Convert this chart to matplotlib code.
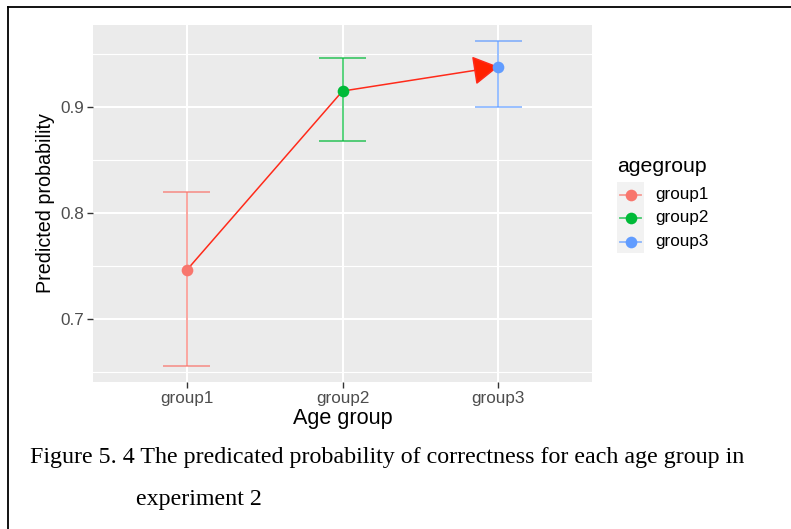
import matplotlib
matplotlib.use("Agg")
import matplotlib.pyplot as plt
from matplotlib.lines import Line2D
from matplotlib.patches import Rectangle
import numpy as np

# Predicted probabilities with confidence limits per age group
categories = ["group1", "group2", "group3"]
predicted = [0.746, 0.915, 0.938]
lower = [0.656, 0.868, 0.900]
upper = [0.820, 0.946, 0.962]
colors = ["#F8766D", "#00BA38", "#619CFF"]
y_ticks = [0.7, 0.8, 0.9]
y_minor = [0.65, 0.75, 0.85, 0.95]

plt.rcParams["font.family"] = ["Liberation Sans", "DejaVu Sans"]

W, H = 791, 529
fig = plt.figure(figsize=(W / 100, H / 100), dpi=100)
fig.patch.set_facecolor("white")

def fx(px):
    return px / W

def fy(py):
    return 1 - py / H

ax = fig.add_axes([fx(93), fy(382), fx(592) - fx(93), fy(25) - fy(382)])
ax.set_facecolor("#EBEBEB")
for s in ax.spines.values():
    s.set_visible(False)

x = np.arange(len(categories))
lo_all, hi_all = min(lower), max(upper)
pad = 0.05 * (hi_all - lo_all)
ax.set_xlim(-0.6, len(categories) - 0.4)
ax.set_ylim(lo_all - pad, hi_all + pad)

# grid
for v in y_minor:
    ax.axhline(v, color="white", lw=0.8, zorder=0)
for v in y_ticks:
    ax.axhline(v, color="white", lw=1.5, zorder=0)
for v in x:
    ax.axvline(v, color="white", lw=1.5, zorder=0)

# error bars
cap = 0.15
for xi, lo, hi, c in zip(x, lower, upper, colors):
    kw = dict(color=c, alpha=0.7, lw=1.3, zorder=2, solid_capstyle="butt")
    ax.plot([xi, xi], [lo, hi], **kw)
    ax.plot([xi - cap, xi + cap], [lo, lo], **kw)
    ax.plot([xi - cap, xi + cap], [hi, hi], **kw)

# connecting path with arrow head on the last segment
line_red = "#FF2A1A"
ax.plot(x[:-1], predicted[:-1], color=line_red, lw=1.1, zorder=3)
ax.annotate("", xy=(x[-1], predicted[-1]), xytext=(x[-2], predicted[-2]),
            arrowprops=dict(arrowstyle="-|>,head_length=0.4,head_width=0.23",
                            mutation_scale=40, color=line_red, lw=1.1,
                            shrinkA=0, shrinkB=0, fc="#FF2200"),
            zorder=3)

# points
for xi, yi, c in zip(x, predicted, colors):
    ax.plot(xi, yi, "o", color=c, ms=8.4, mec="none", zorder=4)

ax.set_xticks(x)
ax.set_xticklabels(categories)
ax.set_yticks(y_ticks)
ax.set_yticklabels([f"{v:.1f}" for v in y_ticks])
ax.tick_params(axis="both", colors="#333333", length=4, width=1.0,
               labelcolor="#4D4D4D", labelsize=12.3, pad=2.5)

ax.set_xlabel("Age group", fontsize=15.6, color="black", labelpad=1.5)
ax.set_ylabel("Predicted probability", fontsize=14.2, color="black", labelpad=4)

# legend
fig.text(fx(617), fy(167), "agegroup", fontsize=15.3, color="black", va="center", ha="left")
fig.add_artist(Rectangle((fx(617), fy(253)), fx(644) - fx(617), fy(182) - fy(253),
                         transform=fig.transFigure, facecolor="#F2F2F2", edgecolor="none"))
rows = [195, 218, 242]
for cat, c, ry in zip(categories, colors, rows):
    fig.add_artist(Line2D([fx(620), fx(641)], [fy(ry), fy(ry)], transform=fig.transFigure,
                          color=c, alpha=0.7, lw=1.3))
    fig.add_artist(Line2D([fx(630.5)], [fy(ry)], transform=fig.transFigure,
                          marker="o", color=c, ms=8.4, mec="none"))
    fig.text(fx(655), fy(ry), cat, fontsize=12.3, color="black", va="center", ha="left")

# frame around figure and caption
fig.add_artist(Line2D([fx(8), fx(8)], [fy(7), 0], transform=fig.transFigure, color="black", lw=1.3))
fig.add_artist(Line2D([fx(8), 1], [fy(7), fy(7)], transform=fig.transFigure, color="black", lw=1.3))

cap_font = ["Liberation Serif", "DejaVu Serif"]
fig.text(fx(30), fy(463), "Figure 5. 4 The predicated probability of correctness for each age group in",
         fontsize=17.3, family=cap_font, va="baseline", ha="left")
fig.text(fx(136), fy(505), "experiment 2", fontsize=17.3, family=cap_font, va="baseline", ha="left")

fig.savefig("out.png", dpi=100)
